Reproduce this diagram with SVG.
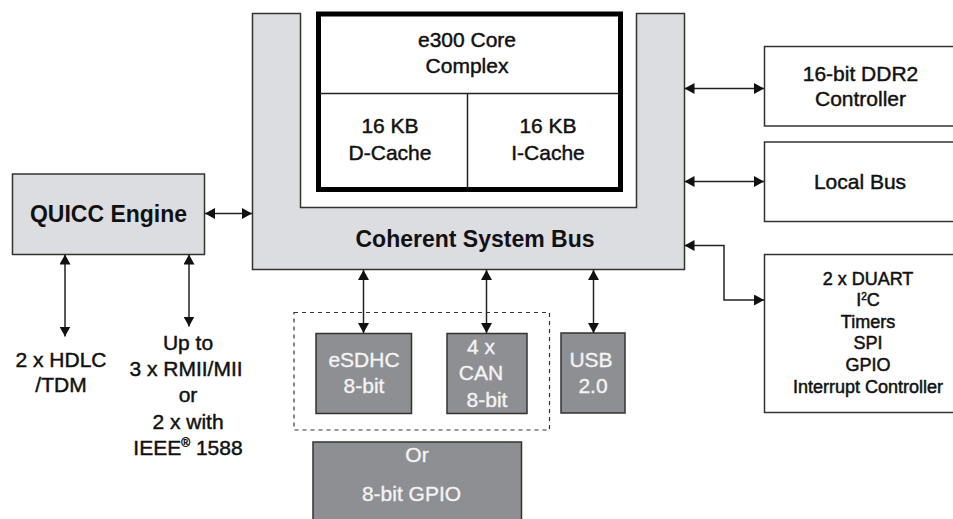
<svg xmlns="http://www.w3.org/2000/svg" width="953" height="519" viewBox="0 0 953 519">
<style>
text{font-family:"Liberation Sans",Arial,sans-serif;fill:#111;text-anchor:middle}
.r{font-size:21px;stroke:#111;stroke-width:0.45}
.b{font-size:23px;font-weight:bold}
.s{font-size:18px;stroke:#111;stroke-width:0.5}
.w{fill:#f4f4f4;font-size:21px;stroke:#f4f4f4;stroke-width:0.35}
.box{fill:#fff;stroke:#333;stroke-width:1.5}
.lg{fill:#dcdde0;stroke:#333;stroke-width:1.5}
.dg{fill:#8e8f92;stroke:#333;stroke-width:1.5}
.c{fill:none;stroke:#222;stroke-width:1.5;marker-start:url(#ah);marker-end:url(#ah)}
</style>
<defs>
<marker id="ah" viewBox="0 0 10 11" refX="10" refY="5.5" markerWidth="10" markerHeight="11" markerUnits="userSpaceOnUse" orient="auto-start-reverse">
<path d="M0,0 L10,5.5 L0,11 Z" fill="#111"/>
</marker>
</defs>
<rect width="953" height="519" fill="#fff"/>

<g id="bus">
<path class="lg" d="M252.5,13.5 H300.5 V207.5 H636.5 V13.5 H684.5 V269.5 H252.5 Z"/>
<text class="b" x="475" y="247">Coherent System Bus</text>
</g>

<g id="core">
<rect x="318.5" y="14" width="302" height="175.5" fill="#fff" stroke="#000" stroke-width="5"/>
<line x1="320" y1="93.5" x2="619" y2="93.5" stroke="#222" stroke-width="1.5"/>
<line x1="467.5" y1="93.5" x2="467.5" y2="188" stroke="#222" stroke-width="1.5"/>
<text class="r" x="467" y="47">e300 Core</text>
<text class="r" x="467" y="73">Complex</text>
<text class="r" x="390" y="132.5">16 KB</text>
<text class="r" x="390" y="159.5">D-Cache</text>
<text class="r" x="548" y="132.5">16 KB</text>
<text class="r" x="548" y="159.5">I-Cache</text>
</g>

<g id="quicc">
<rect class="lg" x="12.5" y="174" width="192" height="80.5"/>
<text class="b" x="108.5" y="222">QUICC Engine</text>
</g>

<g id="hdlc">
<text class="r" x="61" y="367">2 x HDLC</text>
<text class="r" x="61" y="392">/TDM</text>
</g>

<g id="rmii">
<text class="r" x="188" y="350">Up to</text>
<text class="r" x="186" y="375.5">3 x RMII/MII</text>
<text class="r" x="188" y="402">or</text>
<text class="r" x="188" y="428.5">2 x with</text>
<text class="r" x="188" y="455">IEEE<tspan font-size="12" dy="-8">®</tspan><tspan dy="8"> 1588</tspan></text>
</g>

<g id="ddr2">
<rect class="box" x="764.5" y="46.5" width="200" height="79.5"/>
<text class="r" x="860.5" y="81">16-bit DDR2</text>
<text class="r" x="860.5" y="106">Controller</text>
</g>

<g id="localbus">
<rect class="box" x="764.5" y="142" width="200" height="79.5"/>
<text class="r" x="860" y="189">Local Bus</text>
</g>

<g id="periph">
<rect class="box" x="764.5" y="254.5" width="200" height="158"/>
<text class="s" x="868" y="284.5">2 x DUART</text>
<text class="s" x="868" y="306">I<tspan font-size="10" dy="-6">2</tspan><tspan dy="6">C</tspan></text>
<text class="s" x="868" y="327.5">Timers</text>
<text class="s" x="868" y="349">SPI</text>
<text class="s" x="868" y="371">GPIO</text>
<text class="s" x="868" y="392.5">Interrupt Controller</text>
</g>

<g id="optgroup">
<rect x="294" y="312.5" width="255.5" height="117.5" fill="none" stroke="#333" stroke-width="1.2" stroke-dasharray="4 4"/>
</g>

<g id="esdhc">
<rect class="dg" x="316" y="333.5" width="95.5" height="80"/>
<text class="w" x="364" y="367">eSDHC</text>
<text class="w" x="364" y="393">8-bit</text>
</g>

<g id="can">
<rect class="dg" x="447" y="333.5" width="80" height="80"/>
<text class="w" x="481" y="353.5">4 x</text>
<text class="w" x="481" y="379.5">CAN</text>
<text class="w" x="487" y="406.5">8-bit</text>
</g>

<g id="usb">
<rect class="dg" x="561" y="333" width="64" height="80"/>
<text class="w" x="591" y="367">USB</text>
<text class="w" x="593" y="393">2.0</text>
</g>

<g id="gpio">
<rect class="dg" x="313" y="442" width="208.5" height="90"/>
<text class="w" x="417" y="462">Or</text>
<text class="w" x="411.5" y="501">8-bit GPIO</text>
</g>

<g id="connectors">
<line class="c" x1="205" y1="213.5" x2="252" y2="213.5"/>
<line class="c" x1="65" y1="254.5" x2="65" y2="336.5"/>
<line class="c" x1="189" y1="254.5" x2="189" y2="326.5"/>
<line class="c" x1="684.5" y1="88.5" x2="764" y2="88.5"/>
<line class="c" x1="684.5" y1="181.5" x2="764" y2="181.5"/>
<polyline class="c" points="684.5,245.5 724,245.5 724,300 764,300"/>
<line class="c" x1="363.5" y1="270" x2="363.5" y2="333"/>
<line class="c" x1="486.5" y1="270" x2="486.5" y2="333"/>
<line class="c" x1="593.5" y1="270" x2="593.5" y2="333"/>
</g>
</svg>
